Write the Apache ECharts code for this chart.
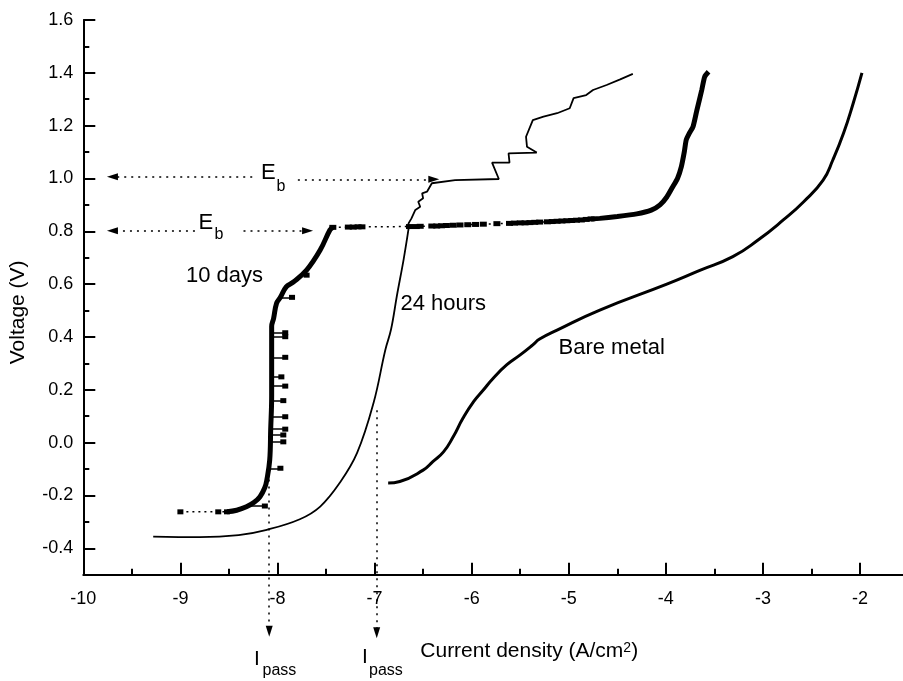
<!DOCTYPE html>
<html><head><meta charset="utf-8">
<script src="https://cdn.jsdelivr.net/npm/echarts@6/dist/echarts.min.js"></script>
<style>html,body{margin:0;padding:0;background:#fff}#c{width:903px;height:681px}</style>
</head><body><div id="c"></div>
<script>
// ---- tick labels ----
const xTickLabels = [-10, -9, -8, -7, -6, -5, -4, -3, -2];
const yTickLabels = ['-0.4', '-0.2', '0.0', '0.2', '0.4', '0.6', '0.8', '1.0', '1.2', '1.4', '1.6'];

// ---- series values [log current density, voltage] ----
const bareMetal = [[-6.86,-0.153],[-6.74,-0.147],[-6.5,-0.104],[-6.4,-0.072],[-6.29,-0.035],[-6.19,0.022],[-6.09,0.092],[-5.98,0.155],[-5.88,0.199],[-5.78,0.243],[-5.64,0.294],[-5.50,0.332],[-5.37,0.370],[-5.30,0.392],[-5.12,0.426],[-4.68,0.502],[-3.99,0.60],[-3.65,0.652],[-3.31,0.704],[-3.05,0.767],[-2.79,0.843],[-2.58,0.912],[-2.38,0.994],[-2.28,1.07],[-2.17,1.171],[-2.07,1.285],[-1.98,1.40]];

// 24-hour scan: smooth lower branch, then the stepped breakdown region
const hours24Lower = [[-9.28,-0.356],[-8.8,-0.358],[-8.4,-0.35],[-8.11,-0.33],[-7.77,-0.29],[-7.56,-0.242],[-7.36,-0.153],[-7.18,-0.039],[-7.01,0.151],[-6.89,0.35],[-6.83,0.429],[-6.77,0.556],[-6.70,0.695],[-6.65,0.809]];
const hours24Upper = [[-6.65,0.809],[-6.65,0.83],[-6.62,0.849],[-6.58,0.881],[-6.53,0.893],[-6.55,0.912],[-6.50,0.925],[-6.51,0.944],[-6.46,0.950],[-6.41,0.982],[-6.17,0.994],[-5.72,0.998],[-5.79,1.060],[-5.61,1.060],[-5.62,1.095],[-5.33,1.098],[-5.43,1.120],[-5.44,1.158],[-5.37,1.221],[-5.26,1.234],[-5.12,1.247],[-4.99,1.266],[-4.95,1.304],[-4.82,1.316],[-4.75,1.335],[-4.61,1.354],[-4.47,1.375],[-4.34,1.396]];

const days10Lower = [[-8.52,-0.262],[-8.42,-0.256],[-8.32,-0.243],[-8.24,-0.226],[-8.18,-0.205],[-8.13,-0.17],[-8.11,-0.142],[-8.08,-0.066],[-8.07,0.05],[-8.06,0.176],[-8.06,0.30],[-8.06,0.44],[-8.04,0.47],[-8.01,0.527],[-7.97,0.55],[-7.91,0.59],[-7.84,0.607],[-7.70,0.653],[-7.56,0.729],[-7.46,0.805],[-7.43,0.815]];
const days10Upper = [[-4.77,0.847],[-4.68,0.849],[-4.5,0.856],[-4.30,0.866],[-4.15,0.88],[-4.06,0.90],[-3.99,0.93],[-3.93,0.968],[-3.88,1.0],[-3.84,1.045],[-3.81,1.10],[-3.79,1.146],[-3.76,1.17],[-3.72,1.196],[-3.68,1.259],[-3.63,1.335],[-3.60,1.385],[-3.56,1.404]];
const days10Tail = [[-9.0,-0.262],[-8.61,-0.262],[-8.52,-0.262]];
const days10Plateau = [[-7.43,0.815],[-7.27,0.816],[-7.22,0.816],[-7.17,0.817],[-7.13,0.817],[-6.64,0.818],[-6.57,0.818],[-6.53,0.819],[-6.41,0.82],[-6.36,0.82],[-6.31,0.821],[-6.26,0.822],[-6.19,0.823],[-6.12,0.824],[-6.04,0.825],[-5.96,0.826],[-5.88,0.827],[-5.74,0.829],[-5.61,0.83],[-5.56,0.831],[-5.50,0.832],[-5.45,0.832],[-5.40,0.833],[-5.35,0.834],[-5.30,0.835],[-5.22,0.836],[-5.17,0.837],[-5.12,0.838],[-5.07,0.839],[-5.02,0.84],[-4.97,0.841],[-4.92,0.842],[-4.87,0.843],[-4.82,0.845],[-4.77,0.847]];

// outlying points of the 10-day scan
const spikeY     = [0.550, 0.634, 0.416, 0.401, 0.323, 0.249, 0.214, 0.159, 0.098, 0.051, 0.029, 0.003, -0.097, -0.240];
const spikeFromX = [-7.99, -7.76, -8.06, -8.06, -8.06, -8.06, -8.06, -8.06, -8.065, -8.07, -8.07, -8.07, -8.08, -8.30];
const spikeToX   = [-7.85, -7.70, -7.92, -7.92, -7.92, -7.96, -7.92, -7.94, -7.92, -7.92, -7.94, -7.94, -7.97, -8.13];

// annotation arrows [x1, y1, x2, y2], arrow head at (x2, y2)
const ebArrows = [[-8.26, 1.007, -9.70, 1.007], [-7.79, 0.997, -6.39, 0.997], [-8.85, 0.802, -9.70, 0.802], [-8.35, 0.802, -7.69, 0.802]];
const ipassArrows = [[-8.085, -0.14, -8.085, -0.714], [-6.978, 0.123, -6.978, -0.72]];

const FONT = 'Liberation Sans, Arial, sans-serif';
const chart = echarts.init(document.getElementById('c'), null, {renderer: 'canvas'});

function arrowData(arr) {
  return arr.map(a => ({coords: [[a[0], a[1]], [a[2], a[3]]]}));
}
function txt(text, x, y, size) {
  return {type: 'text', x: x, y: y, style: {text: text, fill: '#000', font: size + 'px ' + FONT, align: 'left', verticalAlign: 'middle'}};
}

const axisLine = {show: true, onZero: false, lineStyle: {color: '#000', width: 2}};
const option = {
  backgroundColor: '#fff',
  animation: false,
  grid: {left: 83.3, top: 20, width: 873.8, height: 554.7, containLabel: false, outerBoundsMode: 'none'},
  xAxis: {
    type: 'value', min: -10, max: -1, interval: 1,
    axisLine: axisLine,
    axisTick: {show: true, inside: true, length: 12, lineStyle: {color: '#000', width: 2}},
    minorTick: {show: true, splitNumber: 2, length: 6, lineStyle: {color: '#000', width: 2}},
    splitLine: {show: false},
    axisLabel: {margin: 15, color: '#000', fontSize: 18, fontFamily: FONT,
      formatter: v => xTickLabels.includes(v) ? String(v) : ''},
    name: '{a|Current density (A/cm}{s|2}{a|)}', nameLocation: 'middle', nameGap: 66,
    nameTextStyle: {padding: [0, 0, 0, 18], rich: {
      a: {fontSize: 21, fontFamily: FONT, color: '#000', lineHeight: 22},
      s: {fontSize: 14, fontFamily: FONT, color: '#000', lineHeight: 12, verticalAlign: 'top'}}}
  },
  yAxis: [{
    type: 'value', min: -0.5, max: 1.6, interval: 0.1,
    axisLine: axisLine,
    axisTick: {show: true, inside: true, length: 6, lineStyle: {color: '#000', width: 2}},
    splitLine: {show: false},
    axisLabel: {show: false},
    name: 'Voltage (V)', nameLocation: 'middle', nameGap: 55,
    nameTextStyle: {fontSize: 21, fontFamily: FONT, color: '#000', padding: [0, 30, 0, 0]}
  }, {
    type: 'value', min: -0.5, max: 1.6, splitNumber: 10, minInterval: 0.2, maxInterval: 0.2,
    position: 'left', offset: 0,
    axisLine: {show: false, onZero: false},
    axisTick: {show: true, inside: true, length: 12, lineStyle: {color: '#000', width: 2}},
    splitLine: {show: false},
    axisLabel: {margin: 10, color: '#000', fontSize: 18, fontFamily: FONT, showMaxLabel: true,
      formatter: v => { const s = v.toFixed(1); return yTickLabels.includes(s) ? s : ''; }}
  }],
  series: [
    {name: 'Bare metal', type: 'line', data: bareMetal, smooth: 0.5, symbol: 'none',
      lineStyle: {color: '#000', width: 3}},
    {name: '24 hours', type: 'line', data: hours24Lower, symbol: 'none', smooth: 0.4,
      lineStyle: {color: '#000', width: 1.8}},
    {name: '24 hours', type: 'line', data: hours24Upper, symbol: 'none',
      lineStyle: {color: '#000', width: 1.8}},
    {name: '10 days', type: 'line', data: days10Lower, symbol: 'none', smooth: 0.4,
      lineStyle: {color: '#000', width: 5}},
    {name: '10 days', type: 'line', data: days10Upper, symbol: 'none', smooth: 0.2,
      lineStyle: {color: '#000', width: 5}},
    {name: '10 days', type: 'line', data: days10Tail, symbol: 'rect', symbolSize: [6, 5], showAllSymbol: true,
      itemStyle: {color: '#000'}, lineStyle: {color: '#000', width: 1.5, type: [2, 4]}},
    {name: '10 days', type: 'line', data: days10Plateau, symbol: 'rect', symbolSize: [7, 5], showAllSymbol: true,
      itemStyle: {color: '#000'}, lineStyle: {color: '#000', width: 1.5, type: [2, 4]}},
    {name: '10 days spikes', type: 'lines', coordinateSystem: 'cartesian2d',
      data: spikeY.map((y, i) => ({coords: [[spikeFromX[i], y], [spikeToX[i], y]]})),
      lineStyle: {color: '#000', width: 1.5, opacity: 1, curveness: 0}, symbol: ['none', 'none']},
    {name: '10 days points', type: 'scatter', data: spikeY.map((y, i) => [spikeToX[i], y]),
      symbol: 'rect', symbolSize: [6, 5], itemStyle: {color: '#000', opacity: 1}},
    {name: 'Eb', type: 'lines', coordinateSystem: 'cartesian2d', clip: false, data: arrowData(ebArrows),
      lineStyle: {color: '#000', width: 1.5, opacity: 1, type: [2, 5], curveness: 0},
      symbol: ['none', 'triangle'], symbolSize: [[7, 11], [7, 11]]},
    {name: 'Ipass', type: 'lines', coordinateSystem: 'cartesian2d', clip: false, data: arrowData(ipassArrows),
      lineStyle: {color: '#000', width: 1.5, opacity: 1, type: [2, 5], curveness: 0},
      symbol: ['none', 'triangle'], symbolSize: [[7, 11], [7, 11]]}
  ],
  graphic: [
    txt('10 days', 186, 275.5, 22),
    txt('24 hours', 400.5, 304.2, 22),
    txt('Bare metal', 558.5, 348, 22),
    txt('E', 261, 173, 22), txt('b', 276.5, 187, 16),
    txt('E', 198.5, 223, 22), txt('b', 214.5, 235, 16),
    txt('I', 254, 659, 21), txt('pass', 262.5, 671, 16),
    txt('I', 362, 657.5, 21), txt('pass', 369, 671, 16)
  ]
};
chart.setOption(option);
</script>
</body></html>
